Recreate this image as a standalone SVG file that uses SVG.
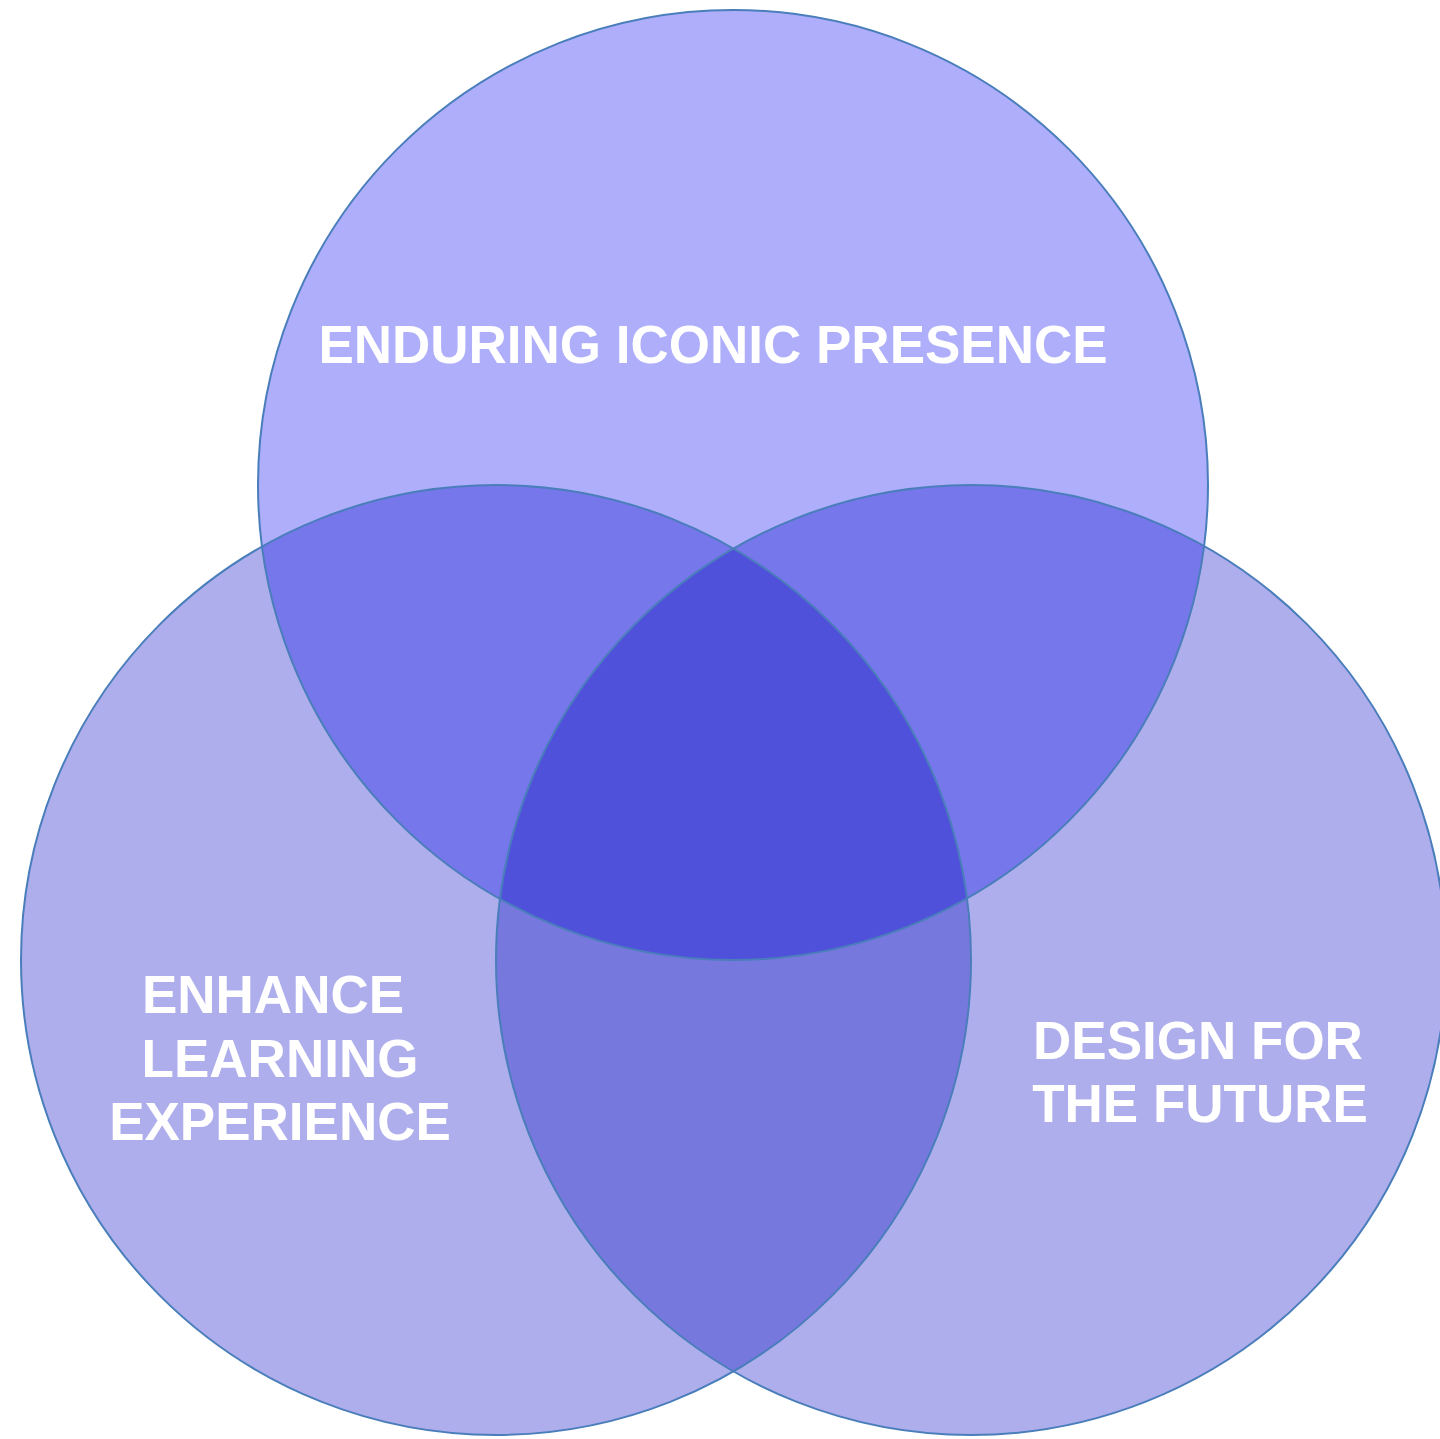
<svg xmlns="http://www.w3.org/2000/svg" width="1440" height="1439" viewBox="0 0 1440 1439">
<style>
.lbl{font-family:"Liberation Sans",Arial,sans-serif;font-weight:bold;font-size:53px;fill:#ffffff;text-anchor:middle}
.edge{fill:none;stroke:#4A7EBB;stroke-width:2}
</style>
<defs>
<clipPath id="cTop"><circle cx="733" cy="485" r="475"/></clipPath>
<clipPath id="cLeft"><circle cx="496" cy="960" r="475"/></clipPath>
<clipPath id="cRight"><circle cx="971" cy="960" r="475"/></clipPath>
</defs>
<rect width="1440" height="1439" fill="#ffffff"/>
<g id="node-top">
<circle cx="733" cy="485" r="475" fill="#AEAEFB"/>
</g>
<g id="node-left">
<circle cx="496" cy="960" r="475" fill="#AFAEEC"/>
</g>
<g id="node-right">
<circle cx="971" cy="960" r="475" fill="#AFAEEC"/>
</g>
<g id="overlaps">
<circle cx="496" cy="960" r="475" fill="#7577EA" clip-path="url(#cTop)"/>
<circle cx="971" cy="960" r="475" fill="#7577EA" clip-path="url(#cTop)"/>
<g clip-path="url(#cLeft)"><circle cx="971" cy="960" r="475" fill="#7778DE"/></g>
<g clip-path="url(#cTop)"><g clip-path="url(#cLeft)"><circle cx="971" cy="960" r="475" fill="#4F51DB"/></g></g>
</g>
<g id="outlines">
<circle class="edge" cx="496" cy="960" r="475"/>
<circle class="edge" cx="971" cy="960" r="475"/>
<circle class="edge" cx="733" cy="485" r="475"/>
</g>
<g id="labels">
<text class="lbl" x="713" y="363">ENDURING ICONIC PRESENCE</text>
<text class="lbl" x="273" y="1013">ENHANCE</text>
<text class="lbl" x="280" y="1077">LEARNING</text>
<text class="lbl" x="280" y="1140">EXPERIENCE</text>
<text class="lbl" x="1198" y="1059">DESIGN FOR</text>
<text class="lbl" x="1200" y="1122">THE FUTURE</text>
</g>
</svg>
